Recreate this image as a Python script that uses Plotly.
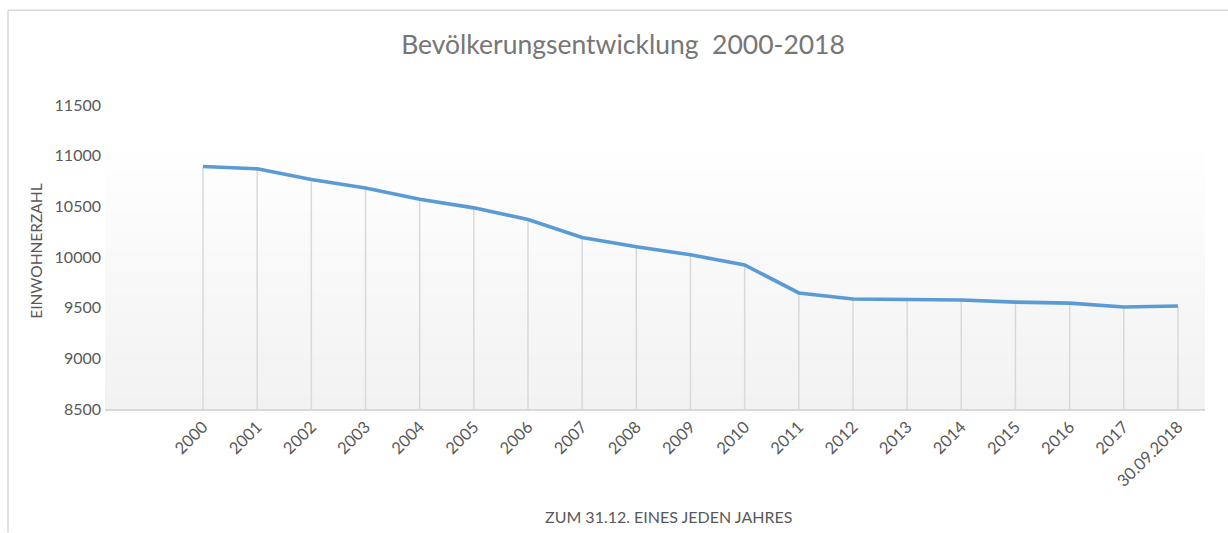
import plotly.graph_objects as go

categories = ["2000", "2001", "2002", "2003", "2004", "2005", "2006", "2007", "2008",
              "2009", "2010", "2011", "2012", "2013", "2014", "2015", "2016", "2017",
              "30.09.2018"]
einwohner = [10893, 10870, 10765, 10680, 10570, 10485, 10370, 10192, 10102,
             10022, 9922, 9645, 9585, 9580, 9575, 9555, 9545, 9507, 9517]
y_ticks = [8500, 9000, 9500, 10000, 10500, 11000, 11500]
y_ticklabels = ["8500", "9000", "9500", "10000", "10500", "11000", "11500"]

W, H = 1228, 533
L, R, T, B = 105, 23, 105, 123.5
pw, ph = W - L - R, H - T - B

def px_x(p):
    return (p - L) / pw

def px_y(p):
    return (H - B - p) / ph

FONT = "Lato, 'Open Sans', sans-serif"
TXT = "#595959"

fig = go.Figure()

# drop lines
fig.add_trace(go.Scatter(
    x=categories, y=einwohner, mode="markers",
    marker=dict(size=1, opacity=0),
    error_y=dict(type="data", symmetric=False,
                 array=[0] * len(einwohner),
                 arrayminus=[v - y_ticks[0] for v in einwohner],
                 color="#d9d9d9", thickness=1.5, width=0),
    hoverinfo="skip", showlegend=False))

fig.add_trace(go.Scatter(
    x=categories, y=einwohner, mode="lines",
    line=dict(color="#5b9bd5", width=3.6),
    showlegend=False))

shapes = []
# gradient background of plot area
n = 40
top = px_y(137)
for i in range(n):
    y0 = top * i / n
    y1 = top * (i + 1) / n
    t = i / (n - 1)
    c = int(round(242 + (255 - 242) * t))
    shapes.append(dict(type="rect", xref="paper", yref="paper",
                       x0=0, x1=1, y0=y0, y1=y1 + 0.002,
                       fillcolor=f"rgb({c},{c},{c})", line=dict(width=0),
                       layer="below"))
# chart border (top and left edges visible)
shapes.append(dict(type="line", xref="paper", yref="paper",
                   x0=px_x(8), x1=px_x(W), y0=px_y(10), y1=px_y(10),
                   line=dict(color="#d9d9d9", width=1.5), layer="below"))
shapes.append(dict(type="line", xref="paper", yref="paper",
                   x0=px_x(8), x1=px_x(8), y0=px_y(10), y1=px_y(H),
                   line=dict(color="#d9d9d9", width=1.5), layer="below"))

fig.update_layout(
    width=W, height=H,
    margin=dict(l=L, r=R, t=T, b=B),
    paper_bgcolor="white", plot_bgcolor="white",
    shapes=shapes,
    title=dict(text="Bevölkerungsentwicklung  2000-2018",
               x=623 / W, xanchor="center", xref="container",
               y=1 - 45 / H, yanchor="middle", yref="container",
               font=dict(family=FONT, size=26.5, color="#767676")),
    xaxis=dict(type="category", range=[-1.81, 18.5],
               tickangle=-45, showgrid=False, zeroline=False,
               showline=True, linecolor="#d9d9d9", linewidth=1.5,
               ticks="", tickfont=dict(family=FONT, size=16.5, color=TXT),
               automargin=False),
    yaxis=dict(range=[8500, 11500], tickvals=y_ticks, ticktext=y_ticklabels,
               showgrid=False, zeroline=False, showline=False,
               ticks="", ticklabelstandoff=3,
               tickfont=dict(family=FONT, size=16, color=TXT),
               automargin=False),
)

fig.add_annotation(text="ZUM 31.12. EINES JEDEN JAHRES", xref="paper", yref="paper",
                   x=px_x(668), y=px_y(517), xanchor="center", yanchor="middle",
                   showarrow=False, font=dict(family=FONT, size=16, color=TXT))
fig.add_annotation(text="EINWOHNERZAHL", xref="paper", yref="paper",
                   x=px_x(36), y=px_y(252), xanchor="center", yanchor="middle",
                   textangle=-90, showarrow=False,
                   font=dict(family=FONT, size=15.5, color=TXT))

fig.write_html("out.html",
               post_script="document.body.style.margin='0px';"
                           "document.body.style.overflow='hidden';"
                           "document.documentElement.style.overflow='hidden';",
               config={"displayModeBar": False})
